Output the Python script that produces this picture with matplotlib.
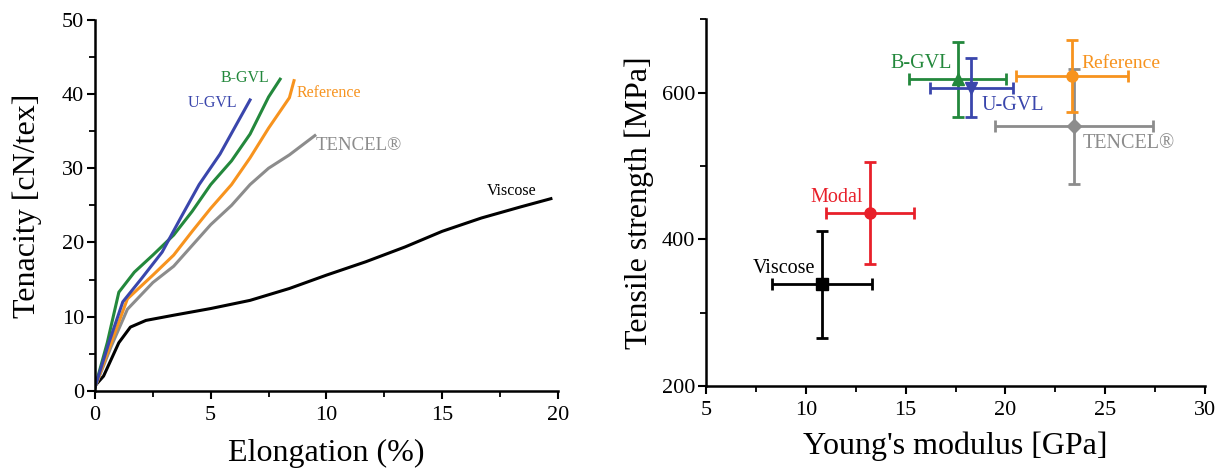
import numpy as np
import matplotlib.pyplot as plt
from matplotlib.ticker import MultipleLocator

plt.rcParams['font.family'] = ['Liberation Serif', 'DejaVu Serif']

# stress-strain curves (elongation %, tenacity cN/tex)
viscose_x = [0, 0.37, 1.03, 1.53, 2.2, 3.4, 5.0, 6.7, 8.4, 10.0, 11.7, 13.4, 15.0, 16.7, 18.4, 19.7]
viscose_y = [0.7, 2.0, 6.5, 8.6, 9.5, 10.2, 11.1, 12.2, 13.8, 15.6, 17.4, 19.4, 21.5, 23.3, 24.8, 25.9]

bgvl_x = [0, 0.53, 1.03, 1.7, 2.5, 3.4, 4.2, 5.0, 5.9, 6.7, 7.5, 8.0]
bgvl_y = [0.5, 6.5, 13.3, 16.0, 18.3, 21.0, 24.2, 27.8, 31.0, 34.6, 39.6, 42.0]

ugvl_x = [0, 0.6, 1.2, 2.0, 2.9, 3.7, 4.5, 5.4, 6.2, 6.7]
ugvl_y = [0.5, 6.5, 12.0, 15.1, 18.7, 23.3, 27.8, 31.9, 36.4, 39.2]

ref_x = [0, 0.7, 1.4, 2.5, 3.4, 4.2, 5.0, 5.9, 6.7, 7.5, 8.4, 8.6]
ref_y = [0.5, 6.5, 12.4, 15.6, 18.3, 21.5, 24.6, 27.8, 31.4, 35.4, 39.5, 41.8]

tencel_x = [0, 0.7, 1.4, 2.5, 3.4, 4.2, 5.0, 5.9, 6.7, 7.5, 8.4, 9.5]
tencel_y = [0.5, 6.0, 11.0, 14.6, 16.8, 19.6, 22.4, 25.0, 27.8, 30.0, 31.8, 34.4]

# right panel: modulus (GPa) vs strength (MPa) with errors
fibres = ['Viscose', 'Modal', 'B-GVL', 'U-GVL', 'Reference', 'TENCEL®']
modulus = [10.8, 13.2, 17.6, 18.3, 23.35, 23.45]
modulus_err = [2.5, 2.2, 2.45, 2.1, 2.8, 3.95]
strength = [339, 436, 618, 607, 623, 554]
strength_err = [73, 69, 51, 40, 49, 78]

green = '#23883c'
blue = '#3a46ac'
orange = '#f7931e'
gray = '#8c8c8c'
red = '#e8202a'
black = '#000000'

fig = plt.figure(figsize=(12.18, 4.71), dpi=100)
ax1 = fig.add_axes([0.078, 0.170, 0.380, 0.788])
ax2 = fig.add_axes([0.580, 0.180, 0.409, 0.779])

# left panel
ax1.plot(viscose_x, viscose_y, color=black, lw=2.2)
ax1.plot(tencel_x, tencel_y, color=gray, lw=2.2)
ax1.plot(ref_x, ref_y, color=orange, lw=2.2)
ax1.plot(bgvl_x, bgvl_y, color=green, lw=2.2)
ax1.plot(ugvl_x, ugvl_y, color=blue, lw=2.2)

ax1.text(6.5, 42.1, 'B-GVL', color=green, fontsize=11.5, ha='center', va='center')
ax1.text(5.1, 38.8, 'U-GVL', color=blue, fontsize=11.5, ha='center', va='center')
ax1.text(10.1, 40.2, 'Reference', color=orange, fontsize=11.5, ha='center', va='center')
ax1.text(11.4, 33.0, 'TENCEL®', color=gray, fontsize=13.5, ha='center', va='center')
ax1.text(18.0, 26.9, 'Viscose', color=black, fontsize=11.5, ha='center', va='center')

ax1.set_xlim(0, 20)
ax1.set_ylim(0, 50)
ax1.xaxis.set_major_locator(MultipleLocator(5))
ax1.xaxis.set_minor_locator(MultipleLocator(2.5))
ax1.yaxis.set_major_locator(MultipleLocator(10))
ax1.yaxis.set_minor_locator(MultipleLocator(5))
ax1.set_xlabel('Elongation (%)', fontsize=23, labelpad=10)
ax1.set_ylabel('Tenacity [cN/tex]', fontsize=23, labelpad=14)

# right panel
markers = ['s', 'o', '^', 'v', 'o', 'D']
colors = [black, red, green, blue, orange, gray]
order = [5, 0, 1, 2, 3, 4]
for i in order:
    ax2.errorbar(modulus[i], strength[i], xerr=modulus_err[i], yerr=strength_err[i],
                 fmt=markers[i], color=colors[i], ms=8 if markers[i] != 'D' else 7,
                 elinewidth=2, capsize=4, capthick=2)

ax2.text(15.75, 640, 'B-GVL', color=green, fontsize=14.5, ha='center', va='center')
ax2.text(20.4, 583, 'U-GVL', color=blue, fontsize=14.5, ha='center', va='center')
ax2.text(25.8, 640, 'Reference', color=orange, fontsize=14, ha='center', va='center')
ax2.text(26.2, 531, 'TENCEL®', color=gray, fontsize=14.5, ha='center', va='center')
ax2.text(11.55, 457, 'Modal', color=red, fontsize=14.5, ha='center', va='center')
ax2.text(8.9, 360, 'Viscose', color=black, fontsize=14.5, ha='center', va='center')

ax2.set_xlim(5, 30)
ax2.set_ylim(200, 700)
ax2.xaxis.set_major_locator(MultipleLocator(5))
ax2.xaxis.set_minor_locator(MultipleLocator(2.5))
ax2.yaxis.set_major_locator(MultipleLocator(200))
ax2.yaxis.set_minor_locator(MultipleLocator(100))
ax2.set_xlabel("Young's modulus [GPa]", fontsize=23, labelpad=8)
ax2.set_ylabel('Tensile strength [MPa]', fontsize=23, labelpad=6)

for ax in (ax1, ax2):
    ax.spines['top'].set_visible(False)
    ax.spines['right'].set_visible(False)
    ax.spines['left'].set_linewidth(1.8)
    ax.spines['bottom'].set_linewidth(1.8)
    ax.tick_params(which='major', direction='out', length=6, width=1.5, labelsize=16)
    ax.tick_params(which='minor', direction='out', length=4, width=1.3)
    ax.tick_params(axis='x', which='major', pad=5)
    ax.tick_params(axis='y', which='major', pad=2)

fig.savefig('out.png', dpi=100)
